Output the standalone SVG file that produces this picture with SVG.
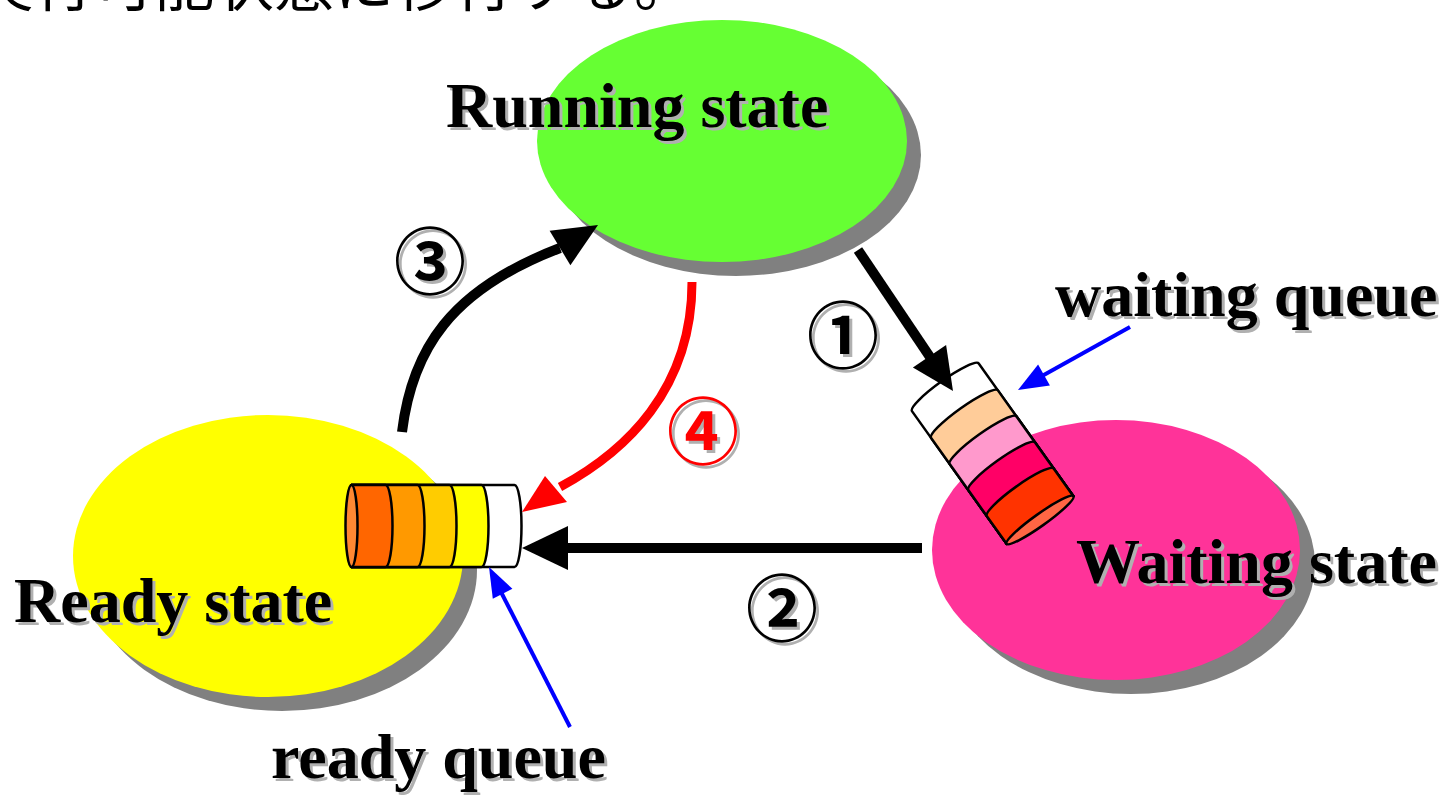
<svg xmlns="http://www.w3.org/2000/svg" width="1456" height="795" viewBox="0 0 1456 795">
<defs>
<style>
.lbl{font-family:"Liberation Serif","Times New Roman",serif;font-weight:bold;font-size:64px;fill:#000}
.sh{fill:#b0b0b0}
.num{font-family:"Noto Sans CJK JP","DejaVu Sans",sans-serif;font-size:72px;font-weight:bold;text-anchor:middle;dominant-baseline:central}
.jp{font-family:"Noto Sans CJK JP",sans-serif;font-size:60px;fill:#000}
.shadow{fill:#808080}
.cyl{stroke:#000;stroke-width:2.5;stroke-linejoin:round}
.blk{stroke:#000;stroke-width:10;fill:none}
.red{stroke:#ff0000;stroke-width:9;fill:none}
.blu{stroke:#0000ff;stroke-width:4;fill:none}
</style>
</defs>
<rect width="1456" height="795" fill="#fff"/>
<text class="jp" x="-26" y="6">実行可能状態に移行する。</text>

<g id="node-running">
<ellipse class="shadow" cx="736" cy="155" rx="185" ry="121"/>
<ellipse cx="722" cy="141" rx="185" ry="121" fill="#66ff33"/>
<text class="lbl sh" x="449" y="130">Running state</text>
<text class="lbl" x="446" y="127">Running state</text>
</g>

<g id="node-ready">
<ellipse class="shadow" cx="282" cy="570" rx="195" ry="141"/>
<ellipse cx="268" cy="556" rx="195" ry="141" fill="#ffff00"/>
</g>

<g id="node-waiting">
<ellipse class="shadow" cx="1131" cy="564" rx="184" ry="130"/>
<ellipse cx="1116" cy="550" rx="184" ry="130" fill="#ff3399"/>
</g>

<g id="ready-queue" transform="translate(351.5,526)">
<path class="cyl" fill="#ffffff" d="M0,-41 L163,-41 A7 41 0 0 1 163,41 L0,41 Z"/>
<path class="cyl" fill="#ffff00" d="M0,-41 L130,-41 A7 41 0 0 1 130,41 L0,41 Z"/>
<path class="cyl" fill="#ffcc00" d="M0,-41 L98,-41 A7 41 0 0 1 98,41 L0,41 Z"/>
<path class="cyl" fill="#ff9900" d="M0,-41 L66,-41 A7 41 0 0 1 66,41 L0,41 Z"/>
<path class="cyl" fill="#ff6600" d="M0,-41 L34,-41 A7 41 0 0 1 34,41 L0,41 Z"/>
<ellipse class="cyl" cx="0" cy="0" rx="6" ry="41" fill="#ff8833"/>
</g>

<g id="waiting-queue" transform="translate(1040,520) rotate(234.5)">
<path class="cyl" fill="#ffffff" d="M0,-41 L163,-41 A7 41 0 0 1 163,41 L0,41 Z"/>
<path class="cyl" fill="#ffcc99" d="M0,-41 L130,-41 A7 41 0 0 1 130,41 L0,41 Z"/>
<path class="cyl" fill="#ff99cc" d="M0,-41 L98,-41 A7 41 0 0 1 98,41 L0,41 Z"/>
<path class="cyl" fill="#ff0066" d="M0,-41 L66,-41 A7 41 0 0 1 66,41 L0,41 Z"/>
<path class="cyl" fill="#ff3300" d="M0,-41 L34,-41 A7 41 0 0 1 34,41 L0,41 Z"/>
<ellipse class="cyl" cx="0" cy="0" rx="6" ry="41" fill="#ff6644"/>
</g>

<g id="labels">
<text class="lbl sh" x="17" y="625">Ready state</text>
<text class="lbl" x="14" y="622">Ready state</text>
<text class="lbl sh" x="1079" y="586">Waiting state</text>
<text class="lbl" x="1076" y="583">Waiting state</text>
<text class="lbl sh" x="1058" y="319">waiting queue</text>
<text class="lbl" x="1055" y="316">waiting queue</text>
<text class="lbl sh" x="274" y="781">ready queue</text>
<text class="lbl" x="271" y="778">ready queue</text>
</g>

<g id="connectors">
<path class="blk" d="M402,432 C412,350 450,290 560,248"/>
<polygon points="598,225 549.6,230.8 570.4,265.2" fill="#000"/>
<path class="blk" d="M858,250 L932,360"/>
<polygon points="953,391 946.1,345 912.9,367.4" fill="#000"/>
<path class="blk" d="M922,548 L560,548"/>
<polygon points="522,548 568,526 568,570" fill="#000"/>
<path class="red" d="M692,282 C692,390 625,452 560,487"/>
<polygon points="522,512 545,476 567,502" fill="#ff0000"/>
<path class="blu" d="M1130,327 L1042,376"/>
<polygon points="1018,390 1049.9,385.5 1038.1,364.5" fill="#0000ff"/>
<path class="blu" d="M570,727 L501,592"/>
<polygon points="489,567 512.4,588.8 492.8,598.8" fill="#0000ff"/>
</g>

<g id="step-labels">
<text class="num" x="433" y="259" fill="#b0b0b0">③</text>
<text class="num" x="430" y="256" fill="#000">③</text>
<text class="num" x="846" y="333" fill="#b0b0b0">①</text>
<text class="num" x="843" y="330" fill="#000">①</text>
<text class="num" x="785" y="606" fill="#b0b0b0">②</text>
<text class="num" x="782" y="603" fill="#000">②</text>
<text class="num" x="706" y="429" fill="#b0b0b0">④</text>
<text class="num" x="703" y="426" fill="#ff0000">④</text>
</g>
</svg>
